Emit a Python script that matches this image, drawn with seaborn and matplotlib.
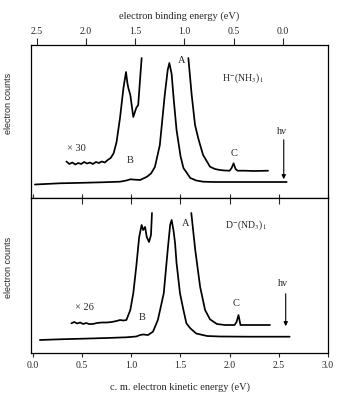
import numpy as np
import pandas as pd
import matplotlib
matplotlib.use("Agg")
import matplotlib.pyplot as plt
import seaborn as sns

# ---------------- data ----------------
HNU = 2.54  # photon energy (eV); binding = HNU - kinetic

# H-(NH3)1 : full-scale spectrum
h_ke = [0.02, 0.27, 0.50, 0.70, 0.885, 0.95, 0.99, 1.04, 1.09, 1.16, 1.20, 1.24,
        1.29, 1.34, 1.37, 1.387, 1.41, 1.43, 1.46, 1.48, 1.50, 1.53, 1.60, 1.66,
        1.73, 1.85, 2.10, 2.35, 2.58]
h_counts = [13.5, 14.7, 15.2, 15.7, 16.3, 17.5, 18.7, 18.3, 18.0, 21.3, 24.5, 31,
            53, 103, 128, 135, 124, 100, 68, 55, 42, 30, 20, 17.5,
            16.3, 16, 16, 16, 16]
# H-(NH3)1 : x30 magnified spectrum (low-energy side, high-energy side)
h30_ke_lo = [0.34, 0.37, 0.40, 0.43, 0.46, 0.49, 0.52, 0.55, 0.58, 0.61, 0.64, 0.67,
             0.70, 0.73, 0.76, 0.79, 0.82, 0.85, 0.885, 0.92, 0.946, 0.96, 0.97,
             0.99, 1.02, 1.05, 1.07, 1.09, 1.105]
h30_counts_lo = [36.5, 34, 35.5, 33.5, 35, 34, 36, 34.5, 35.5, 34, 36, 35,
                 36.5, 35.5, 38, 40, 44.7, 56, 80, 110, 126, 115, 110,
                 103, 81, 90, 93, 120, 140]
h30_ke_hi = [1.58, 1.614, 1.648, 1.68, 1.70, 1.73, 1.76, 1.80, 1.85, 1.90, 1.95,
             2.00, 2.02, 2.04, 2.06, 2.08, 2.15, 2.25, 2.39]
h30_counts_hi = [140, 103, 73, 60, 53, 43, 38, 31.3, 29, 28, 27.5,
                 27.3, 30, 34.7, 29, 27.3, 27.3, 27, 27.3]

# D-(ND3)1 : full-scale spectrum
d_ke = [0.07, 0.27, 0.50, 0.75, 0.95, 1.05, 1.09, 1.12, 1.17, 1.22, 1.27, 1.33,
        1.37, 1.395, 1.41, 1.43, 1.445, 1.46, 1.495, 1.53, 1.56, 1.60, 1.66,
        1.77, 1.90, 2.20, 2.61]
d_counts = [13, 13.7, 14.3, 15, 15.7, 16.5, 18, 18.5, 18, 21.3, 33, 59.7,
            103, 128, 133, 122, 109.7, 90, 59.7, 43, 29.7, 24.7, 19.5,
            17, 16.5, 16.3, 16.3]
# D-(ND3)1 : x26 magnified spectrum
d26_ke_lo = [0.39, 0.42, 0.45, 0.48, 0.51, 0.54, 0.57, 0.61, 0.65, 0.70, 0.75, 0.80,
             0.85, 0.885, 0.92, 0.95, 0.99, 1.02, 1.05, 1.08, 1.105, 1.12, 1.14,
             1.157, 1.18, 1.20, 1.21]
d26_counts_lo = [29.7, 31, 29.5, 30.5, 29, 30, 29, 29, 30, 30.5, 30.5, 31,
                 32, 33, 32.5, 33, 43, 59.7, 86, 116, 128, 123, 126,
                 116, 111, 118, 140]
d26_ke_hi = [1.61, 1.65, 1.70, 1.75, 1.80, 1.87, 1.95, 2.05, 2.07, 2.09, 2.11, 2.20, 2.41]
d26_counts_hi = [140, 103, 66, 43, 33.7, 29, 28, 28, 31, 38, 28, 28, 28]

ke_ticks = [0.0, 0.5, 1.0, 1.5, 2.0, 2.5, 3.0]
be_ticks = [2.5, 2.0, 1.5, 1.0, 0.5, 0.0]

# ---------------- style ----------------
sns.set_style("ticks")
plt.rcParams["font.family"] = ["Liberation Serif", "DejaVu Serif"]
plt.rcParams["mathtext.fontset"] = "stix"

fig = plt.figure(figsize=(3.44, 4.19), dpi=100)
L, W = 31 / 344, 297 / 344
ax1 = fig.add_axes([L, 1 - 198 / 419, W, 153 / 419])
ax2 = fig.add_axes([L, 1 - 353 / 419, W, 155 / 419])

LW = 1.25
def draw(ax, x, y):
    df = pd.DataFrame({"ke": x, "counts": y})
    sns.lineplot(data=df, x="ke", y="counts", ax=ax, color="black",
                 linewidth=LW, estimator=None, sort=False)

draw(ax1, h_ke, h_counts)
draw(ax1, h30_ke_lo, h30_counts_lo)
draw(ax1, h30_ke_hi, h30_counts_hi)
draw(ax2, d_ke, d_counts)
draw(ax2, d26_ke_lo, d26_counts_lo)
draw(ax2, d26_ke_hi, d26_counts_hi)

for ax in (ax1, ax2):
    ax.set_xlim(-0.02, 3.0)
    ax.set_yticks([])
    for s in ax.spines.values():
        s.set_visible(True)
        s.set_linewidth(0.9)
        s.set_color("black")
    ax.set_xticks(ke_ticks)

ax1.set_ylim(0, 153)
ax2.set_ylim(0, 155)

# top panel: inner ticks at bottom, binding energy axis on top
ax1.tick_params(axis="x", which="both", direction="in", length=3, width=0.8,
                bottom=True, top=False, labelbottom=False)
ax1.set_xlabel("")
sec = ax1.secondary_xaxis("top", functions=(lambda k: HNU - k, lambda b: HNU - b))
sec.set_xticks(be_ticks)
sec.set_xticklabels([f"{b:.1f}" for b in be_ticks])
sec.tick_params(direction="out", length=5, width=0.8, pad=1.5, labelsize=7)
sec.spines["top"].set_visible(False)
sec.set_xlabel("electron binding energy (eV)", fontsize=7.5, labelpad=6)

# bottom panel
ax2.tick_params(axis="x", which="both", direction="out", length=3, width=0.8,
                bottom=True, top=False, labelsize=7, pad=3)
ax2.set_xticklabels([f"{t:.1f}" for t in ke_ticks])
ax2.set_xlabel("c. m. electron kinetic energy (eV)", fontsize=7.5, labelpad=9)
top2 = ax2.secondary_xaxis("top")
top2.set_xticks(ke_ticks[1:-1])
top2.tick_params(direction="in", length=4, width=0.8, labeltop=False)
top2.spines["top"].set_visible(False)

for ax, yc in ((ax1, 0.62), (ax2, 0.55)):
    ax.set_ylabel("electron counts", fontsize=6.5, family=["Liberation Sans", "DejaVu Sans"])
    ax.yaxis.set_label_coords(-0.061, yc)

# annotations
fs = 7.5
ax1.text(0.35, 50, "× 30", fontsize=fs, ha="left", va="center")
ax1.text(0.99, 38, "B", fontsize=fs, ha="center", va="center")
ax1.text(1.51, 138, "A", fontsize=fs, ha="center", va="center")
ax1.text(2.04, 45, "C", fontsize=fs, ha="center", va="center")
ax1.text(2.14, 120, r"H$^{-}$(NH$_3$)$_1$", fontsize=7, ha="center", va="center")
ax1.text(2.53, 67, "hν", fontsize=fs, ha="center", va="center")
ax1.annotate("", xy=(2.55, 16), xytext=(2.55, 61),
             arrowprops=dict(arrowstyle="-|>", color="black", lw=0.8, mutation_scale=6))

ax2.text(0.43, 46, "× 26", fontsize=fs, ha="left", va="center")
ax2.text(1.11, 36, "B", fontsize=fs, ha="center", va="center")
ax2.text(1.55, 130, "A", fontsize=fs, ha="center", va="center")
ax2.text(2.07, 50, "C", fontsize=fs, ha="center", va="center")
ax2.text(2.17, 128, r"D$^{-}$(ND$_3$)$_1$", fontsize=7, ha="center", va="center")
ax2.text(2.54, 70, "hν", fontsize=fs, ha="center", va="center")
ax2.annotate("", xy=(2.57, 24), xytext=(2.57, 62),
             arrowprops=dict(arrowstyle="-|>", color="black", lw=0.8, mutation_scale=6))

fig.savefig("out.png", dpi=100, facecolor="white")
